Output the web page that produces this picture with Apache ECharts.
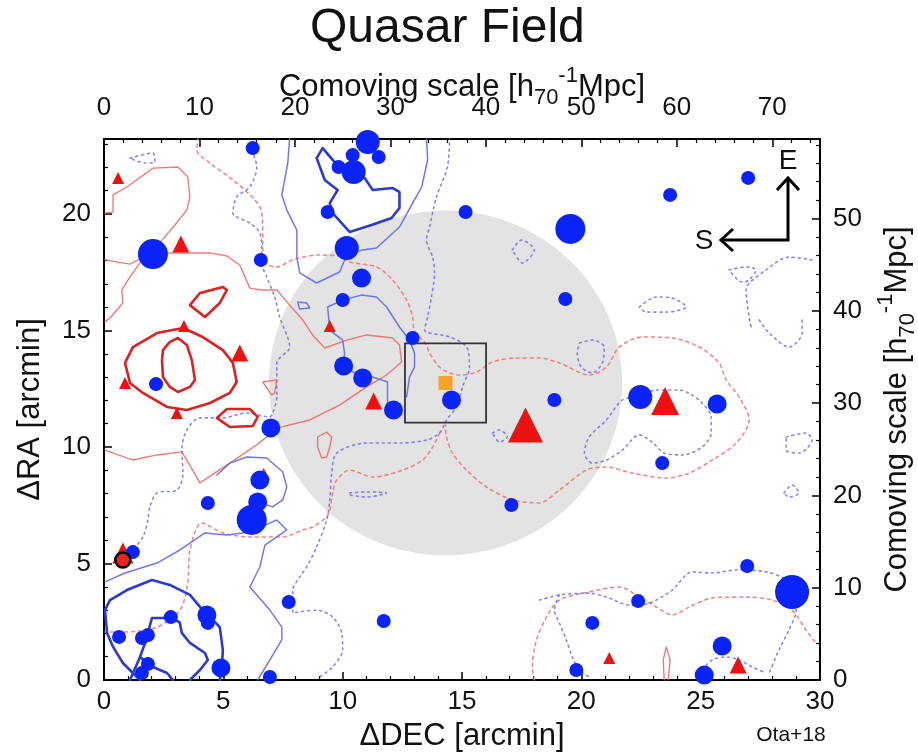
<!DOCTYPE html>
<html>
<head>
<meta charset="utf-8">
<script src="https://cdn.jsdelivr.net/npm/echarts@6/dist/echarts.min.js"></script>
<style>
  html, body { margin: 0; padding: 0; background: #fff; }
  #chart { width: 918px; height: 752px; }
</style>
</head>
<body>
<div id="chart"></div>
<script>
// ---- Field geometry (arcmin) ----
const raMax = 23.22;               // top of the ΔRA range
const decMax = 30;                 // right end of the ΔDEC range
const mpcPerArcminDec = 2.50;      // comoving scale along ΔDEC
const mpcPerArcminRa = 2.525;      // comoving scale along ΔRA
const quasarPos = [14.31, 12.75];
const fieldRadius = 7.4;           // shaded region around the quasar
const boxHalfWidth = 1.7;          // square around the quasar

// ---- Blue circles: ΔDEC, ΔRA, brightness class (1 = faint ... 5 = bright) ----
const circleDec = [6.23, 11.05, 10.42, 11.51, 9.83, 10.46, 9.37, 10.17, 10.79, 10.00,
  15.15, 2.05, 6.57, 19.54, 23.72, 26.99, 19.33, 2.18, 6.99, 6.53,
  6.44, 6.19, 4.35, 10.04, 10.84, 12.13, 12.93, 14.56, 18.87, 17.07,
  22.47, 25.69, 23.39, 1.21, 7.74, 4.31, 4.35, 0.63, 1.59, 1.84,
  2.80, 1.84, 1.59, 4.90, 6.95, 11.72, 26.95, 28.83, 22.38, 20.46,
  25.90, 19.79, 25.15];
const circleRa = [22.83, 23.09, 22.53, 22.45, 22.02, 21.80, 20.09, 18.54, 17.25, 16.31,
  20.09, 18.28, 18.03, 19.36, 20.82, 21.55, 16.35, 12.70, 10.82, 8.58,
  7.64, 6.87, 7.60, 13.48, 12.96, 11.59, 14.68, 12.02, 12.02, 7.51,
  12.15, 11.85, 9.31, 5.49, 3.35, 2.79, 2.45, 1.85, 1.80, 1.93,
  2.70, 0.69, 0.30, 0.52, 0.13, 2.53, 4.89, 3.78, 3.39, 2.45,
  1.46, 0.43, 0.21];
const circleClass = [1, 3, 1, 1, 1, 3, 1, 3, 2, 1,
  1, 4, 1, 4, 1, 1, 1, 1, 2, 2,
  2, 4, 1, 2, 2, 2, 1, 2, 1, 1,
  3, 2, 1, 1, 1, 2, 1, 1, 1, 1,
  1, 1, 1, 2, 1, 1, 1, 5, 1, 1,
  2, 1, 2];

// ---- Red triangles: ΔDEC, ΔRA, brightness class ----
const triangleDec = [0.59, 3.22, 3.35, 5.69, 0.88, 3.05, 6.69, 9.46, 11.30, 17.66, 23.51, 21.17, 26.57, 0.79];
const triangleRa = [21.55, 18.71, 15.19, 14.03, 12.75, 11.46, 8.84, 15.19, 11.97, 10.94, 11.97, 0.94, 0.64, 5.45];
const triangleClass = [1, 2, 1, 2, 1, 1, 1, 1, 2, 5, 4, 1, 2, 3];

// ---- Outlined red circle ----
const ringedSource = [0.79, 5.15];

// ---- Tick labels ----
const decTicks = [0, 5, 10, 15, 20, 25, 30];
const raTicks = [0, 5, 10, 15, 20];
const comovingTicksTop = [0, 10, 20, 30, 40, 50, 60, 70];
const comovingTicksRight = [0, 10, 20, 30, 40, 50];

// ---- Density contours (ΔDEC, ΔRA) ----
const redThinContours = [
  [[0.04,20.04],[0.38,20.09],[0.38,20.82],[0.96,21.16],[2.05,21.97],[3.10,22.02],[3.51,21.59],[3.60,20.73],[3.47,20.17],[2.97,19.53],[2.43,18.88],[1.92,18.33],[1.51,17.90],[1.09,17.30],[0.75,16.74],[0.79,16.18],[0.25,15.54],[0.04,15.37]],
  [[0.04,18.03],[1.09,17.85],[1.92,18.28],[2.76,18.33],[4.44,18.33],[5.15,18.20],[5.69,17.81],[6.11,16.82],[6.61,16.74],[7.24,16.74],[7.78,16.09],[8.33,15.45],[8.74,14.81],[9.25,14.25],[10.17,14.59],[11.00,14.81],[12.09,14.68],[12.38,14.38],[12.47,13.65],[11.84,13.09],[11.00,12.58],[9.87,11.80],[8.62,11.16],[7.28,10.82],[6.40,10.09],[5.27,9.31],[4.02,8.46],[3.47,9.44],[3.26,9.79],[2.22,9.66],[1.21,9.44],[0.04,9.87]],
  [[6.65,12.79],[7.24,12.88],[7.15,12.32],[7.03,12.23],[6.65,12.79]],
  [[8.95,10.43],[9.33,10.64],[9.54,10.43],[9.46,10.00],[9.33,9.57],[9.12,9.53],[8.95,10.00],[8.95,10.43]],
  [[23.47,0.0],[23.43,0.86],[23.56,1.42],[23.72,0.86],[23.64,0.0]]
];
const redThickContours = [
  [[0.88,13.61],[1.21,14.29],[2.22,14.89],[3.31,15.11],[4.14,14.72],[4.98,14.16],[5.40,13.61],[5.56,12.79],[5.27,12.32],[4.44,11.89],[3.47,11.59],[2.64,11.72],[1.63,12.32],[1.09,12.75],[0.88,13.61]],
  [[2.47,14.16],[2.76,14.51],[3.10,14.68],[3.47,14.38],[3.68,13.73],[3.81,12.88],[3.60,12.58],[3.10,12.36],[2.76,12.58],[2.47,13.00],[2.43,13.73],[2.47,14.16]],
  [[4.73,11.25],[5.15,11.63],[6.11,11.63],[6.44,11.29],[6.23,10.90],[5.27,10.86],[4.73,11.25]],
  [[3.60,16.09],[4.02,16.61],[4.98,16.87],[5.15,16.74],[4.85,16.18],[4.23,15.58],[3.60,16.09]]
];
const redDashedContours = [
  [[3.93,23.3],[3.89,22.75],[4.44,22.19],[5.56,21.33],[6.53,20.30],[6.65,19.31],[6.65,18.58],[6.74,17.90],[7.24,17.73],[7.91,18.03],[8.91,18.24],[9.87,18.20],[10.29,17.94],[11.42,17.73],[12.09,17.17],[12.68,16.31],[12.93,15.58],[13.01,15.02],[13.51,14.38],[13.64,14.03],[14.06,13.43],[14.48,13.18],[14.90,13.09],[15.61,13.22],[16.28,13.65],[17.28,13.82],[18.24,13.82],[19.08,13.61],[20.33,13.09],[21.05,13.43],[21.59,14.29],[22.55,14.72],[23.81,14.68],[24.94,14.29],[25.77,13.61],[26.07,12.88],[26.61,12.15],[27.03,11.16],[26.49,10.17],[25.48,9.44],[24.52,8.88],[23.56,8.67],[22.13,8.88],[21.05,9.14],[20.21,9.01],[19.08,8.15],[18.24,7.60],[17.11,7.73],[16.03,8.28],[15.19,9.01],[14.60,9.74],[14.35,10.43],[14.31,10.94]],
  [[14.06,10.60],[13.77,10.00],[13.35,9.44],[12.51,9.01],[11.26,8.71],[10.29,9.01],[9.75,8.58],[9.58,8.03],[9.46,7.30],[9.33,7.00],[8.74,6.57],[8.33,6.44],[7.49,6.14],[6.11,6.14],[4.98,6.31],[4.10,6.74],[3.60,5.58],[3.51,4.16],[3.18,3.00],[2.22,2.27],[0.79,2.06],[0.04,2.06]],
  [[18.03,0.0],[17.95,0.56],[18.12,1.72],[18.54,2.70],[19.08,3.43],[20.33,3.78],[21.59,3.99],[22.43,3.56],[23.14,3.13],[23.81,2.79],[24.52,3.13],[25.48,3.52],[26.90,3.56],[27.99,3.43],[28.83,3.00],[29.41,2.15],[29.83,1.59]]
];
const blueThickContours = [
  [[9.83,22.02],[9.16,22.83],[8.91,22.40],[9.25,21.46],[9.79,21.03],[9.46,20.47],[9.58,20.04],[10.29,19.23],[11.21,19.53],[12.05,19.83],[12.38,20.26],[12.38,20.94],[12.09,21.12],[11.26,21.03],[10.92,21.55],[10.46,21.80]],
  [[1.51,0.0],[1.38,0.13],[0.79,0.73],[0.38,1.42],[0.13,2.02],[0.04,3.00],[0.25,3.43],[0.96,3.86],[2.01,4.29],[2.76,4.08],[3.60,3.65],[4.14,3.00],[4.56,2.58],[4.85,2.27],[4.98,1.29],[4.94,0.56],[4.85,0.0]],
  [[1.09,0.0],[1.51,0.99],[1.72,1.59],[2.01,2.66],[2.43,2.66],[2.85,2.70],[3.18,2.45],[3.26,2.02],[3.60,1.59],[4.23,1.16],[4.35,0.86],[4.02,0.43],[3.60,0.0]],
  [[1.51,0.99],[2.05,0.56],[2.64,0.30],[2.89,0.0]]
];
const blueThinContours = [
  [[7.78,23.3],[7.70,22.19],[7.45,20.82],[7.66,20.17],[8.08,19.31],[8.08,18.15],[8.20,17.47],[8.91,17.04],[9.87,17.51],[10.17,18.24],[10.84,18.46],[11.42,18.54],[12.38,19.44],[12.93,20.47],[13.31,21.16],[13.56,22.32],[13.51,23.3]],
  [[10.00,16.31],[9.37,16.01],[9.46,15.02],[10.00,14.59],[10.08,14.03],[10.04,13.48]],
  [[10.00,16.31],[10.79,16.52],[11.42,16.44],[11.84,16.01],[12.38,15.15],[12.80,14.59],[13.01,14.03],[13.01,13.43],[12.80,13.00],[12.68,12.15]],
  [[10.04,13.48],[10.84,12.96],[11.00,13.09],[11.88,12.79],[11.88,11.89],[12.13,11.59]],
  [[8.12,16.22],[8.49,16.18],[8.62,15.97],[8.20,15.92],[8.12,16.22]],
  [[4.73,8.80],[5.27,9.31],[5.98,9.57],[6.82,9.53],[7.49,8.93],[7.66,8.28],[7.49,7.73],[7.07,7.43],[6.44,7.64]],
  [[0.04,4.21],[0.88,4.59],[2.22,5.02],[3.18,5.58],[4.23,6.31],[5.15,6.22],[6.11,6.35],[7.24,6.87],[7.66,6.44],[6.74,5.79],[6.53,4.85],[6.11,3.99],[6.95,3.00],[7.45,2.27],[7.45,1.72],[6.95,0.86],[6.44,0.0]]
];
const blueDottedContours = [
  [[6.19,22.75],[6.40,22.02],[6.11,21.16],[5.56,20.73],[5.40,20.04],[6.11,19.61],[6.53,19.19],[6.61,18.33],[6.61,17.90],[6.82,17.30],[7.15,16.44],[7.36,15.58],[7.78,14.29],[7.24,13.61],[7.24,12.15],[7.07,11.46],[6.95,11.29],[5.98,11.46],[4.98,11.25],[4.02,11.25],[3.47,10.73],[3.26,9.87],[3.31,8.88],[3.05,8.15],[2.22,8.03],[1.92,7.43],[1.84,6.87],[1.63,6.14],[1.21,5.58]],
  [[14.48,23.3],[14.39,22.02],[13.93,20.73],[13.64,19.44],[13.51,18.88],[13.77,18.15],[13.85,17.47],[13.72,16.44],[13.56,15.58],[13.43,15.02],[14.48,14.72],[15.19,14.29],[15.31,13.43],[15.02,12.58],[14.77,11.72],[14.35,11.16],[14.06,10.60],[13.51,10.30],[12.38,10.17],[11.00,10.17],[9.75,9.74],[9.54,8.88],[9.46,7.73],[9.33,6.87],[8.91,5.71],[8.49,4.85],[8.20,4.42],[7.91,3.86],[7.91,2.88],[8.91,3.00],[9.58,2.70],[9.96,2.02],[10.00,1.29],[9.58,0.56],[9.04,0.13]],
  [[22.47,12.15],[23.14,12.45],[24.10,12.45],[24.64,12.23],[25.06,11.89],[25.44,11.29],[25.44,10.60],[25.06,10.00],[24.23,9.66],[23.47,9.74],[22.97,10.21],[22.43,10.52],[21.72,9.87],[21.05,9.44],[20.46,9.31],[20.13,9.74],[20.33,10.43],[21.05,11.16],[21.72,12.02],[22.47,12.15]],
  [[19.92,14.46],[20.46,14.59],[20.96,14.29],[20.88,13.61],[20.46,13.18],[20.00,13.43],[19.83,14.03],[19.92,14.46]],
  [[16.28,10.60],[16.57,10.73],[16.90,10.43],[16.57,10.21],[16.28,10.60]],
  [[17.11,18.46],[17.49,18.88],[18.03,18.46],[17.53,17.90],[17.11,18.46]],
  [[18.24,3.43],[19.08,3.65],[20.33,3.73],[21.05,3.56],[22.01,3.22],[22.85,3.30],[23.81,3.86],[24.64,4.64],[25.48,4.59],[26.49,4.72],[27.74,4.64],[28.58,4.29],[28.83,3.73],[29.00,3.00],[28.70,2.15],[28.28,1.29],[27.87,0.30]],
  [[19.08,3.65],[18.87,3.00],[19.08,2.45],[19.37,1.72],[19.62,0.99],[19.92,0.43],[20.33,0.13]],
  [[25.06,0.43],[25.48,0.86],[26.07,0.99],[26.61,0.86],[27.15,0.56],[27.74,0.30]],
  [[26.19,17.60],[26.90,17.73],[27.32,17.60],[27.03,17.17],[26.74,17.08],[26.19,17.60]],
  [[22.43,16.01],[23.14,16.44],[23.81,16.39],[24.39,16.01],[23.56,15.79],[22.72,15.79],[22.43,16.01]],
  [[29.67,18.03],[28.70,18.15],[27.74,17.60],[26.90,16.74],[27.03,15.58],[27.15,15.02]],
  [[27.45,15.45],[27.87,14.89],[28.70,14.29],[29.25,14.89],[29.25,15.45]],
  [[28.58,10.43],[29.41,10.60],[29.67,10.30],[29.12,9.74],[28.58,9.87],[28.58,10.43]],
  [[28.49,8.03],[28.83,8.37],[29.12,8.03],[28.70,7.85],[28.49,8.03]],
  [[1.09,22.40],[2.05,22.62],[2.13,22.23],[1.72,22.19],[1.09,22.40]],
  [[10.29,8.03],[11.00,8.07],[11.84,8.03],[11.00,7.85],[10.29,7.94]]
];

// ---- Styling ----
const fontFamily = "'Liberation Sans', Arial, Helvetica, sans-serif";
const circleSizeByClass = [0, 14, 19, 24, 30, 34];
const triangleSizeByClass = [0, 12, 17, 21, 28, 35];
const blueMarker = '#0a24f8';
const redMarker = '#ee1111';

function contourSeries(paths, color, width, dash, smooth) {
  return paths.map(p => ({
    type: 'line',
    data: p,
    showSymbol: false,
    symbol: 'none',
    smooth: smooth,
    silent: true,
    z: 3,
    lineStyle: { color: color, width: width, type: dash || 'solid', cap: 'round', join: 'round' }
  }));
}

const circleData = circleDec.map((d, i) => [d, circleRa[i], circleClass[i]]);
const triangleData = triangleDec.map((d, i) => [d, triangleRa[i], triangleClass[i]]);

const axisBase = {
  type: 'value',
  nameMoveOverlap: false,
  axisLine: { show: true, onZero: false, lineStyle: { color: '#000', width: 2 } },
  axisTick: { show: true, inside: true, length: 8, lineStyle: { color: '#000', width: 1.5 } },
  minorTick: { show: true, splitNumber: 5, length: 4, lineStyle: { color: '#000', width: 1.2 } },
  splitLine: { show: false },
  axisLabel: { color: '#111', fontSize: 26, fontFamily: fontFamily, margin: 12, showMaxLabel: false, hideOverlap: false }
};

function withTicks(ticks) {
  return v => (ticks.indexOf(Math.round(v * 1000) / 1000) >= 0 ? String(v) : '');
}

const nameBase = { color: '#111', fontSize: 31, fontFamily: fontFamily };
const comovingRich = {
  a: { fontSize: 31, fontFamily: fontFamily, color: '#111', lineHeight: 44 },
  sub: { fontSize: 22, fontFamily: fontFamily, color: '#111', verticalAlign: 'bottom', lineHeight: 26 },
  sup: { fontSize: 22, fontFamily: fontFamily, color: '#111', verticalAlign: 'top', lineHeight: 26 }
};
const comovingName = '{a|Comoving scale [h}{sub|70}{sup|-1}{a|Mpc]}';

const chart = echarts.init(document.getElementById('chart'), null, { renderer: 'canvas' });

chart.setOption({
  animation: false,
  backgroundColor: '#fff',
  title: {
    text: 'Quasar Field',
    left: 305, top: 0,
    textStyle: { fontSize: 48, fontWeight: 'normal', color: '#111', fontFamily: fontFamily }
  },
  grid: { left: 104, right: 98, top: 139, bottom: 72, containLabel: false, outerBoundsMode: 'none' },
  xAxis: [
    Object.assign({}, axisBase, {
      position: 'bottom', min: 0, max: decMax, interval: 5,
      axisLabel: Object.assign({}, axisBase.axisLabel, { formatter: withTicks(decTicks), showMaxLabel: true, margin: 9 }),
      name: 'ΔDEC [arcmin]', nameLocation: 'middle', nameGap: 41, nameTextStyle: nameBase
    }),
    Object.assign({}, axisBase, {
      position: 'top', min: 0, max: decMax * mpcPerArcminDec, interval: 10,
      axisLabel: Object.assign({}, axisBase.axisLabel, { formatter: withTicks(comovingTicksTop), margin: 18 }),
      name: comovingName, nameLocation: 'middle', nameGap: 30,
      nameTextStyle: { rich: comovingRich }
    })
  ],
  yAxis: [
    Object.assign({}, axisBase, {
      position: 'left', min: 0, max: raMax, interval: 5,
      axisLabel: Object.assign({}, axisBase.axisLabel, { formatter: withTicks(raTicks), margin: 13 }),
      name: 'ΔRA [arcmin]', nameLocation: 'middle', nameGap: 58, nameRotate: 90, nameTextStyle: nameBase
    }),
    Object.assign({}, axisBase, {
      position: 'right', min: 0, max: raMax * mpcPerArcminRa, interval: 10,
      axisLabel: Object.assign({}, axisBase.axisLabel, { formatter: withTicks(comovingTicksRight), margin: 13 }),
      name: comovingName, nameLocation: 'middle', nameGap: 55, nameRotate: 90,
      nameTextStyle: { rich: comovingRich }
    })
  ],
  series: [
    {
      // shaded region centred on the quasar
      type: 'custom', silent: true, z: 1,
      data: [[quasarPos[0], quasarPos[1], fieldRadius]],
      renderItem: (params, api) => {
        const cx = api.value(0), cy = api.value(1), r = api.value(2);
        const pts = [];
        for (let i = 0; i <= 180; i++) {
          const a = i / 180 * Math.PI * 2;
          pts.push(api.coord([cx + r * Math.cos(a), cy + r * Math.sin(a)]));
        }
        return { type: 'polygon', shape: { points: pts }, style: { fill: '#e3e3e3' } };
      }
    },
    ...contourSeries(redDashedContours, 'rgba(238,115,115,0.85)', 1.6, [3, 4], 0.3),
    ...contourSeries(blueDottedContours, 'rgba(105,105,235,0.8)', 1.6, [2, 4], 0.3),
    ...contourSeries(redThinContours, 'rgba(238,100,100,0.85)', 1.4, 'solid', false),
    ...contourSeries(blueThinContours, 'rgba(95,105,235,0.9)', 1.5, 'solid', false),
    ...contourSeries(redThickContours, '#dd2020', 2.6, 'solid', false),
    ...contourSeries(blueThickContours, '#2b3bd0', 2.6, 'solid', false),
    {
      // square around the quasar
      type: 'custom', silent: true, z: 4,
      data: [[quasarPos[0], quasarPos[1], boxHalfWidth]],
      renderItem: (params, api) => {
        const h = api.value(2);
        const p0 = api.coord([api.value(0) - h, api.value(1) + h]);
        const p1 = api.coord([api.value(0) + h, api.value(1) - h]);
        return {
          type: 'rect',
          shape: { x: p0[0], y: p0[1], width: p1[0] - p0[0], height: p1[1] - p0[1] },
          style: { fill: 'none', stroke: '#333', lineWidth: 1.8 }
        };
      }
    },
    {
      type: 'scatter', z: 5, silent: true,
      symbol: 'triangle',
      symbolSize: v => triangleSizeByClass[v[2]],
      itemStyle: { color: redMarker, opacity: 1 },
      data: triangleData
    },
    {
      type: 'scatter', z: 6, silent: true,
      symbol: 'circle',
      symbolSize: v => circleSizeByClass[v[2]],
      itemStyle: { color: blueMarker, opacity: 1 },
      data: circleData
    },
    {
      type: 'scatter', z: 7, silent: true,
      symbol: 'circle', symbolSize: 15,
      itemStyle: { color: '#ee2222', borderColor: '#000', borderWidth: 2.5, opacity: 1 },
      data: [ringedSource]
    },
    {
      type: 'scatter', z: 7, silent: true,
      symbol: 'rect', symbolSize: 14,
      itemStyle: { color: '#f7a32a', opacity: 1 },
      data: [quasarPos]
    }
  ],
  graphic: [
    { type: 'text', x: 791, y: 735, style: { text: 'Ota+18', fontSize: 21, fill: '#111', fontFamily: fontFamily, align: 'center', verticalAlign: 'middle' } },
    { type: 'text', x: 788, y: 161, style: { text: 'E', fontSize: 28, fill: '#111', fontFamily: fontFamily, align: 'center', verticalAlign: 'middle' } },
    { type: 'text', x: 704, y: 241, style: { text: 'S', fontSize: 28, fill: '#111', fontFamily: fontFamily, align: 'center', verticalAlign: 'middle' } },
    { type: 'polyline', shape: { points: [[721, 240], [788, 240], [788, 178]] }, style: { stroke: '#000', lineWidth: 3, fill: null } },
    { type: 'polyline', shape: { points: [[777, 190], [788, 178], [799, 190]] }, style: { stroke: '#000', lineWidth: 3, fill: null } },
    { type: 'polyline', shape: { points: [[733, 229], [721, 240], [733, 251]] }, style: { stroke: '#000', lineWidth: 3, fill: null } }
  ]
});
</script>
</body>
</html>
